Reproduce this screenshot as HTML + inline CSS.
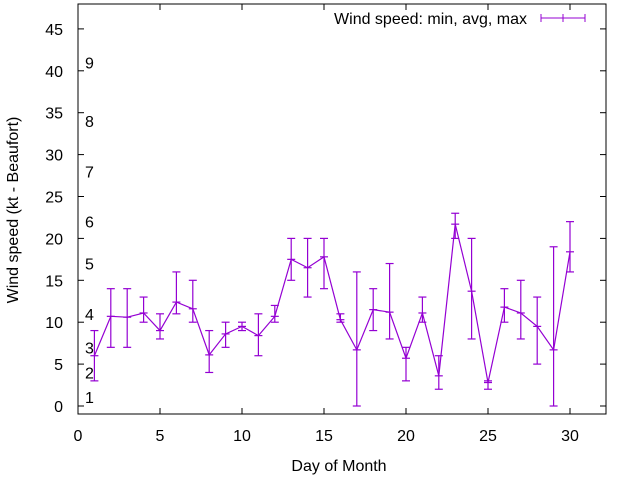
<!DOCTYPE html>
<html><head><meta charset="utf-8"><style>
body{margin:0;background:#fff;}
svg text{font-family:"Liberation Sans",Arial,sans-serif;font-size:16px;fill:#000;}
</style></head><body>
<svg id="chart" width="640" height="480" xmlns="http://www.w3.org/2000/svg">
<rect x="78" y="4" width="528" height="410" fill="none" stroke="#000" stroke-width="1"/>
<g id="ticks"></g>
<g id="beaufort"></g>
<g id="series"></g>
<text transform="translate(18,210) rotate(-90)" text-anchor="middle">Wind speed (kt - Beaufort)</text>
<text x="339" y="471" text-anchor="middle">Day of Month</text>
<g>
<text x="527" y="24" text-anchor="end">Wind speed: min, avg, max</text>
<line x1="541" y1="18" x2="585" y2="18" stroke="#9400d3"/>
<line x1="541" y1="14" x2="541" y2="22" stroke="#9400d3"/>
<line x1="563" y1="14" x2="563" y2="22" stroke="#9400d3"/>
<line x1="585" y1="14" x2="585" y2="22" stroke="#9400d3"/>
</g>
</svg>
<script>
const days=[1,2,3,4,5,6,7,8,9,10,11,12,13,14,15,16,17,18,19,20,21,22,23,24,25,26,27,28,29,30];
const avgVals=[6,10.7,10.6,11.1,9,12.4,11.6,6.1,8.6,9.5,8.4,10.7,17.5,16.5,17.8,10.3,6.7,11.5,11.2,5.7,11.1,3.6,21.7,13.7,2.8,11.8,11.1,9.5,6.7,18.4];
const minVals=[3,7,7,10,8,11,10,4,7,9,6,10,15,13,14,10,0,9,8,3,10,2,20,8,2,10,8,5,0,16];
const maxVals=[9,14,14,13,11,16,15,9,10,10,11,12,20,20,20,11,16,14,17,7,13,6,23,20,3,14,15,13,19,22];
const xTicks=[0,5,10,15,20,25,30];
const yTicks=[0,5,10,15,20,25,30,35,40,45];
const beaufortLabels=["1","2","3","4","5","6","7","8","9"];
const beaufortKt=[1.1,4,7,11,17,22,28,34,41];
const NS="http://www.w3.org/2000/svg";
const X=v=>78+v*16.4;
const Y=v=>406-v*8.38;
function mk(t,a,p){const e=document.createElementNS(NS,t);for(const k in a)e.setAttribute(k,a[k]);p.appendChild(e);return e;}
const tg=document.getElementById('ticks');
xTicks.forEach(v=>{
  const t=mk('text',{x:X(v),y:441,'text-anchor':'middle'},tg);t.textContent=v;
  
  
  mk('line',{x1:X(v),y1:414,x2:X(v),y2:408,stroke:'#000'},tg);
  mk('line',{x1:X(v),y1:4,x2:X(v),y2:10,stroke:'#000'},tg);
});
yTicks.forEach(v=>{
  const t=mk('text',{x:63,y:Y(v)+6,'text-anchor':'end'},tg);t.textContent=v;
  
  
  mk('line',{x1:78,y1:Y(v),x2:84,y2:Y(v),stroke:'#000'},tg);
  mk('line',{x1:606,y1:Y(v),x2:600,y2:Y(v),stroke:'#000'},tg);
});
const bg=document.getElementById('beaufort');
beaufortLabels.forEach((l,i)=>{
  const t=mk('text',{x:85,y:Y(beaufortKt[i])+6},bg);t.textContent=l;
  
  
});
const sg=document.getElementById('series');
const c='#9400d3';
let pts=days.map((d,i)=>X(d)+','+Y(avgVals[i])).join(' ');
const pl=mk('polyline',{points:pts,fill:'none',stroke:c,'stroke-width':1.2},sg);


days.forEach((d,i)=>{
  const g=mk('g',{},sg);
  
  
  const x=X(d);
  mk('line',{x1:x,y1:Y(minVals[i]),x2:x,y2:Y(maxVals[i]),stroke:c,'stroke-width':1.2},g);
  [minVals[i],maxVals[i],avgVals[i]].forEach(v=>mk('line',{x1:x-4,y1:Y(v),x2:x+4,y2:Y(v),stroke:c,'stroke-width':1.2},g));
});
</script>
</body></html>
